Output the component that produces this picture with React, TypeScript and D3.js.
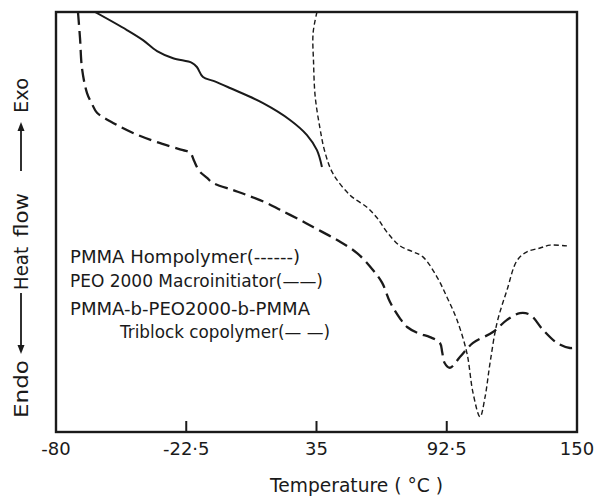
import React from "react";
import * as d3 from "d3";

// Temperature (°C) vs heat flow (arbitrary units, 0 = bottom of frame, 100 = top)
const pmmaT = [35.2, 33.5, 33.7, 34.4, 36.5, 38.8, 42.3, 49.8, 57.3, 61.7, 66.1, 71.9, 77.6, 82.0, 88.2, 92.6, 97.0, 101.4, 104.1, 107.2, 109.4, 111.6, 114.7, 119.1, 123.5, 127.9, 133.7, 138.1, 145.6];
const pmmaHF = [100, 95, 88, 80, 72.4, 66.5, 61.5, 56.4, 53.5, 51.0, 47.6, 44.3, 42.9, 41.7, 36.9, 32.1, 26.7, 18.8, 9.3, 3.6, 8.3, 16.4, 26.0, 33.8, 40.8, 42.9, 43.8, 44.5, 44.3];

const peoT = [-62.8, -48.7, -41.6, -35.4, -28.3, -20.0, -17.8, -15.1, -10.5, -3.2, 11.4, 23.3, 30.8, 35.2, 37.4];
const peoHF = [100, 95.7, 93.3, 90.7, 89.0, 87.9, 86.9, 84.5, 83.6, 81.9, 78.3, 74.3, 70.7, 67.1, 63.1];

const triT = [-70.3, -69.4, -68.5, -66.3, -64.0, -61.9, -54.8, -46.0, -35.4, -23.9, -20.8, -19.0, -17.8, -16.4, -13.3, -10.7, -1.9, 4.3, 13.1, 18.9, 27.7, 33.5, 44.1, 52.9, 60.0, 64.0, 67.4, 71.9, 75.0, 80.0, 85.1, 89.5, 90.5, 91.5, 93.9, 98.4, 104.1, 112.9, 119.1, 124.8, 129.3, 135.0, 141.2, 146.9, 150.0];
const triHF = [100, 93.8, 86.5, 80.7, 78.0, 76.0, 73.6, 71.2, 69.0, 67.1, 66.5, 64.5, 63.1, 61.9, 60.5, 59.3, 57.6, 56.4, 54.5, 52.9, 50.5, 48.8, 45.7, 42.6, 38.5, 35.5, 31.0, 27.0, 25.0, 23.5, 22.6, 21.2, 19.0, 16.5, 15.3, 17.9, 21.2, 23.8, 26.7, 28.3, 27.9, 24.3, 21.2, 20.0, 20.2];

const xTicks = [-80, -22.5, 35, 92.5, 150];
const xTickLabels = ["-80", "-22·5", "35", "92·5", "150"];

const legendLines = [
  "PMMA  Hompolymer(------)",
  "PEO 2000 Macroinitiator(——)",
  "PMMA-b-PEO2000-b-PMMA",
  "Triblock copolymer(— —)",
];

const W = 595;
const H = 497;
const L = 56, R = 577, T = 12, B = 432;

export default function App() {
  const x = d3.scaleLinear().domain([-80, 150]).range([L, R]);
  const y = d3.scaleLinear().domain([0, 100]).range([B, T]);
  const line = d3
    .line<[number, number]>()
    .x((d) => x(d[0]))
    .y((d) => y(d[1]))
    .curve(d3.curveCatmullRom.alpha(0.5));
  const zip = (a: number[], b: number[]) => a.map((v, i) => [v, b[i]] as [number, number]);
  const font = "DejaVu Sans, sans-serif";
  const ink = "#1a1a1a";

  const arrow = (y1: number, y2: number) => {
    const dir = y2 > y1 ? 1 : -1;
    return (
      <g>
        <line x1={21} x2={21} y1={y1} y2={y2 - dir * 4} stroke={ink} strokeWidth={1.8} />
        <path d={`M${21},${y2} L${17.5},${y2 - dir * 9} L${24.5},${y2 - dir * 9} Z`} fill={ink} />
      </g>
    );
  };

  const legendPos = [
    { x: 70, y: 263, w: 230 },
    { x: 70, y: 287, w: 253 },
    { x: 70, y: 315, w: 240 },
    { x: 120, y: 338, w: 210 },
  ];

  return (
    <svg width={W} height={H} style={{ position: "absolute", left: 0, top: 0, background: "#fff" }} fontFamily={font}>
      <defs>
        <clipPath id="plot">
          <rect x={L} y={T} width={R - L} height={B - T} />
        </clipPath>
      </defs>
      <g clipPath="url(#plot)" fill="none" stroke={ink}>
        <path d={line(zip(peoT, peoHF)) || ""} strokeWidth={2} />
        <path d={line(zip(triT, triHF)) || ""} strokeWidth={2.3} strokeDasharray="13,6" />
        <path d={line(zip(pmmaT, pmmaHF)) || ""} strokeWidth={1.4} strokeDasharray="5,3" />
      </g>
      {/* frame */}
      <rect x={L} y={T} width={R - L} height={B - T} fill="none" stroke={ink} strokeWidth={2.4} />
      {xTicks.map((t, i) => (
        <g key={t}>
          <line x1={x(t)} x2={x(t)} y1={B} y2={B - 11} stroke={ink} strokeWidth={2} />
          <text x={x(t)} y={455} textAnchor="middle" fontSize={18} fill={ink}>
            {xTickLabels[i]}
          </text>
        </g>
      ))}
      <text x={270} y={492} fontSize={19} fill={ink} textLength={173} lengthAdjust="spacingAndGlyphs">
        Temperature ( °C )
      </text>
      {/* y label */}
      <g fill={ink} fontSize={19}>
        <text transform="translate(28,389) rotate(-90)" textAnchor="middle" textLength={58} lengthAdjust="spacingAndGlyphs">Endo</text>
        <text transform="translate(28,268.5) rotate(-90)" textAnchor="middle" textLength={43} lengthAdjust="spacingAndGlyphs">Heat</text>
        <text transform="translate(28,215) rotate(-90)" textAnchor="middle" textLength={44} lengthAdjust="spacingAndGlyphs">flow</text>
        <text transform="translate(28,95.5) rotate(-90)" textAnchor="middle" textLength={35} lengthAdjust="spacingAndGlyphs">Exo</text>
      </g>
      {arrow(293, 354)}
      {arrow(171, 122)}
      {/* legend */}
      <g fill={ink} fontSize={17.5}>
        {legendLines.map((s, i) => (
          <text key={i} x={legendPos[i].x} y={legendPos[i].y} textLength={legendPos[i].w} lengthAdjust="spacingAndGlyphs">
            {s}
          </text>
        ))}
      </g>
    </svg>
  );
}
